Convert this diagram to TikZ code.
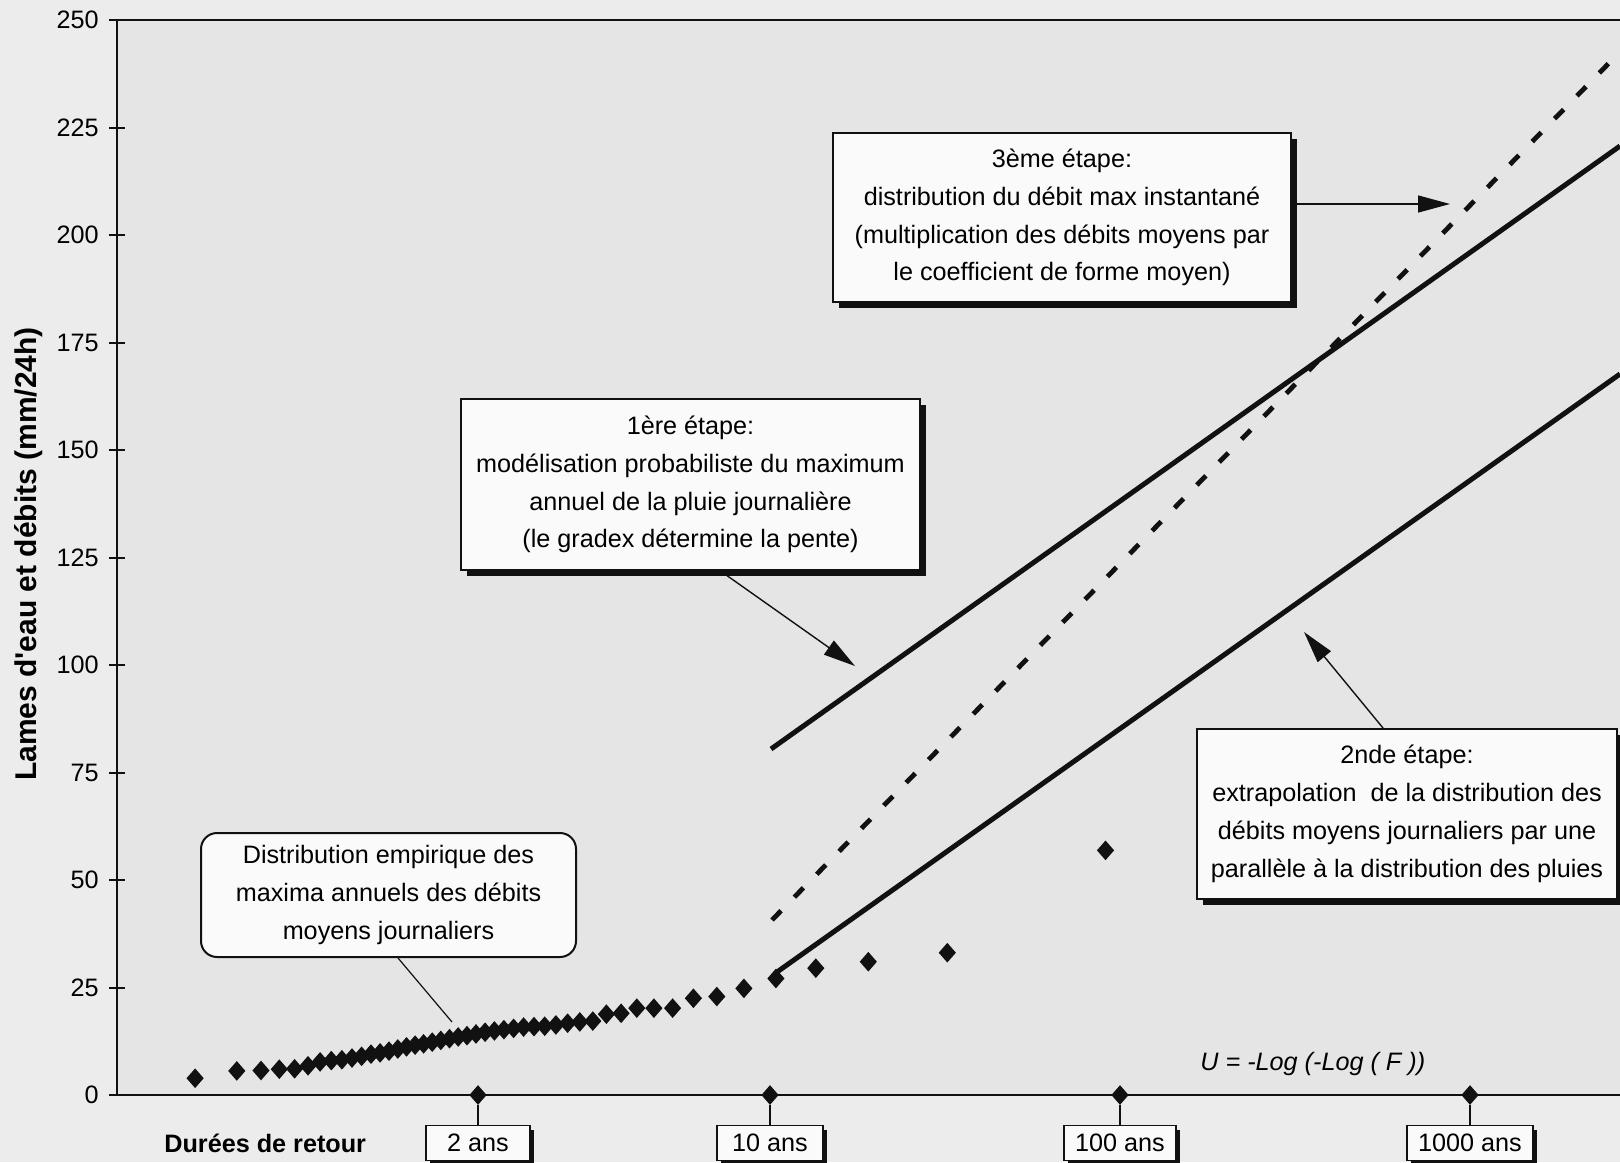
\documentclass[tikz,border=0pt]{standalone}
\usepackage{fontspec}
\setmainfont{Liberation Sans}
\usetikzlibrary{shapes.geometric,arrows.meta,shadows}
\definecolor{bgout}{HTML}{ECECEC}
\definecolor{bgin}{HTML}{E5E5E5}
\definecolor{boxfill}{HTML}{FAFAFA}
\definecolor{ink}{HTML}{111111}
\begin{document}
\begin{tikzpicture}[x=0.5pt,y=-0.5pt,
  font=\fontsize{12.6}{18.9}\selectfont,
  stepbox/.style={draw=ink, line width=1pt, fill=boxfill, align=center, inner sep=0pt,
    drop shadow={shadow xshift=2.75pt, shadow yshift=-2.75pt, fill=ink, opacity=1}},
  labbox/.style={draw=ink, line width=0.9pt, fill=boxfill, inner sep=0pt, minimum height=17.5pt,
    drop shadow={shadow xshift=2pt, shadow yshift=-2pt, fill=ink, opacity=1}},
  callbox/.style={draw=ink, line width=1pt, fill=boxfill, rounded corners=8pt, align=center, inner sep=0pt},
  datapt/.style={diamond, fill=ink, inner sep=0pt, minimum width=8.75pt, minimum height=10pt},
  fitline/.style={draw=ink, line width=2.5pt},
  dashline/.style={draw=ink, line width=2.4pt, dash pattern=on 6.5pt off 9.5pt},
  pointer/.style={draw=ink, line width=0.7pt, -{Triangle[length=16pt,width=8.5pt]}},
  leader/.style={draw=ink, line width=0.6pt},
  axisline/.style={draw=ink, line width=1pt},
  ticklab/.style={anchor=east, inner sep=0pt}]
\useasboundingbox (0,0) rectangle (1620,1162);
\fill[bgout] (0,0) rectangle (1620,1162);
\fill[bgin] (117,20) rectangle (1620,1095);
% frame
\draw[axisline] (1620,20) -- (117,20) -- (117,1095) -- (1620,1095);
\foreach \v in {0,25,...,225} \draw[axisline] (109,{1095-4.3*\v}) -- (125,{1095-4.3*\v});
\draw[axisline] (109,20) -- (117,20);
\foreach \v in {0,25,...,250} \node[ticklab] (y\v) at (99,{1095-4.3*\v}) {\v};
\node[rotate=90, font=\fontsize{15}{18}\selectfont\bfseries] (ylab) at (29,554) {Lames d\textquotesingle eau et débits (mm/24h)};
% fitted lines
\coordinate (up0) at (771,749); \coordinate (up1) at (1620,146);
\coordinate (lo0) at (777,972); \coordinate (lo1) at (1620,374);
\coordinate (da0) at (772,920); \coordinate (da1) at (1610,62);
\draw[fitline] (up0) -- (up1);
\draw[fitline] (lo0) -- (lo1);
\draw[dashline] (da0) -- (da1);
% empirical points
\foreach \xx/\vv [count=\i] in {195.1/3.9, 236.8/5.6, 261.0/5.7, 279.3/6.0, 294.6/6.1, 308.0/6.8,
  320.1/7.7, 331.3/8.0, 341.9/8.2, 352.0/8.6, 361.6/9.0, 371.0/9.5, 380.1/9.8, 389.0/10.2,
  397.8/10.7, 406.5/11.2, 415.1/11.6, 423.6/11.9, 432.2/12.3, 440.8/12.7, 449.5/13.1,
  458.2/13.5, 467.0/13.8, 476.0/14.2, 485.1/14.6, 494.4/14.9, 503.9/15.2, 513.6/15.5,
  523.6/15.8, 534.0/15.9, 544.7/16.0, 555.9/16.3, 567.6/16.7, 579.8/17.0, 592.8/17.2,
  606.4/18.8, 621.1/19.0, 636.8/20.2, 653.9/20.2, 672.6/20.2, 693.4/22.5, 716.8/22.9,
  743.9/24.8, 775.9/27.1, 815.8/29.5, 868.3/31.0, 947.3/33.1, 1105.5/56.9}
  \node[datapt] (p\i) at (\xx,{1095-4.3*\vv}) {};
% return period ticks
\node[datapt] (t2) at (478,1095) {};
\node[datapt] (t10) at (770,1095) {};
\node[datapt] (t100) at (1120,1095) {};
\node[datapt] (t1000) at (1470,1095) {};
\node[labbox, minimum width=52pt] (b2) at (478,1143) {2 ans};
\node[labbox, minimum width=53pt] (b10) at (770,1143) {10 ans};
\node[labbox, minimum width=56pt] (b100) at (1120,1143) {100 ans};
\node[labbox, minimum width=63pt] (b1000) at (1470,1143) {1000 ans};
\draw[leader] (t2.south) -- (b2.north);
\draw[leader] (t10.south) -- (b10.north);
\draw[leader] (t100.south) -- (b100.north);
\draw[leader] (t1000.south) -- (b1000.north);
\node[anchor=base west, inner sep=0pt, font=\fontsize{12.6}{18.9}\selectfont\bfseries] (xlab) at (164,1152) {Durées de retour};
\node[anchor=base west, inner sep=0pt, font=\fontsize{12.6}{18.9}\selectfont\itshape] (ueq) at (1200,1070) {U = -Log (-Log ( F ))};
% annotation boxes
\node[stepbox, minimum width=229.5pt, minimum height=85.5pt] (s1) at (690.5,484.5)
  {1ère étape:\\ modélisation probabiliste du maximum\\ annuel de la pluie journalière\\ (le gradex détermine la pente)};
\node[stepbox, minimum width=229pt, minimum height=84.5pt] (s3) at (1062,217.5)
  {3ème étape:\\ distribution du débit max instantané\\ (multiplication des débits moyens par\\ le coefficient de forme moyen)};
\node[stepbox, minimum width=210pt, minimum height=85pt] (s2) at (1407,814)
  {2nde étape:\\ extrapolation\ \ de la distribution des\\ débits moyens journaliers par une\\ parallèle à la distribution des pluies};
\node[callbox, minimum width=187.5pt, minimum height=62pt] (emp) at (388.5,895)
  {Distribution empirique des\\ maxima annuels des débits\\ moyens journaliers};
% pointers
\coordinate (c1) at (855,666);
\coordinate (c3) at (1450,204);
\coordinate (c2) at (1304,632);
\coordinate (c4) at (452,1022);
\draw[pointer] ([xshift=15pt]s1.south) -- (c1);
\draw[pointer] ([yshift=6.75pt]s3.east) -- (c3);
\draw[pointer] ([xshift=-12pt]s2.north) -- (c2);
\draw[leader] ([xshift=4.75pt]emp.south) -- (c4);
\end{tikzpicture}
\end{document}
